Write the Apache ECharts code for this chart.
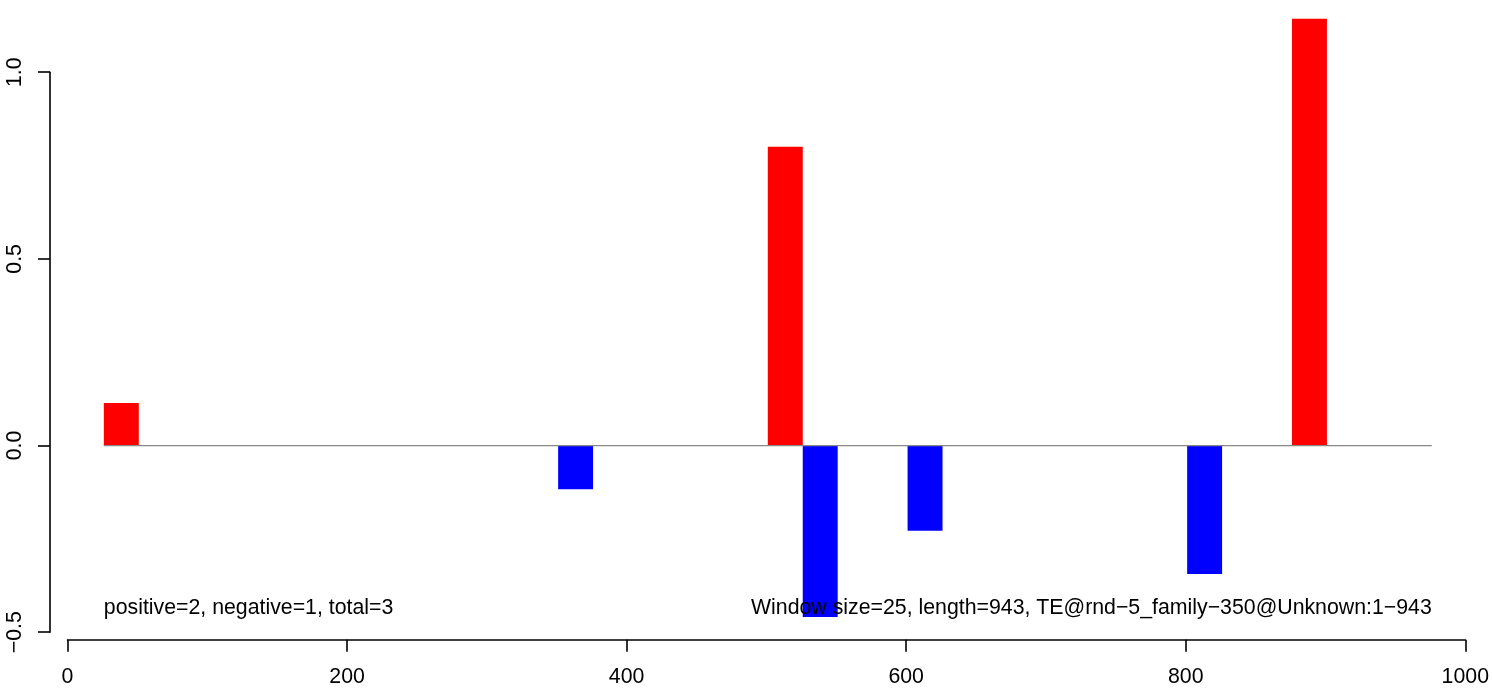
<!DOCTYPE html>
<html>
<head>
<meta charset="utf-8">
<script src="https://cdn.jsdelivr.net/npm/echarts@6/dist/echarts.min.js"></script>
<style>
html,body{margin:0;padding:0;background:#fff;}
#chart{width:1492px;height:691px;}
</style>
</head>
<body>
<div id="chart"></div>
<script>
// Window start positions (bp) and scores
const windowSize = 25;
const windowStarts = [26, 351, 501, 526, 601, 801, 876];
const windowValues = [0.114, -0.117, 0.800, -0.459, -0.228, -0.344, 1.143];
const baselineRange = [26, 976];
const xTicks = [0, 200, 400, 600, 800, 1000];
const yTicks = [-0.5, 0.0, 0.5, 1.0];
const leftNote = 'positive=2, negative=1, total=3';
const rightNote = 'Window size=25, length=943, TE@rnd\u22125_family\u2212350@Unknown:1\u2212943';
const noteY = -0.435;

const FONT = 'Liberation Sans, Arial, Helvetica, sans-serif';
const FS = 21.3;

const barData = windowStarts.map((s, i) => [s, s + windowSize, windowValues[i]]);

const chart = echarts.init(document.getElementById('chart'), null, {renderer: 'canvas'});
chart.setOption({
  animation: false,
  backgroundColor: '#ffffff',
  grid: {left: 67.5, right: 26.5, top: 72.2, bottom: 58.8, containLabel: false},
  xAxis: {
    type: 'value', min: xTicks[0], max: xTicks[xTicks.length - 1], interval: 200,
    offset: 7.5,
    splitLine: {show: false},
    axisLine: {show: true, onZero: false, lineStyle: {color: '#000', width: 1.6}},
    axisTick: {show: true, length: 12, lineStyle: {color: '#000', width: 1.6}},
    axisLabel: {color: '#000', fontSize: FS, fontFamily: FONT, margin: 27,
      formatter: v => String(v)}
  },
  yAxis: {
    type: 'value', min: yTicks[0], max: yTicks[yTicks.length - 1], interval: 0.5,
    offset: 17.5,
    splitLine: {show: false},
    axisLine: {show: true, onZero: false, lineStyle: {color: '#000', width: 1.6}},
    axisTick: {show: true, length: 12, lineStyle: {color: '#000', width: 1.6}},
    axisLabel: {color: '#000', fontSize: FS, fontFamily: FONT, margin: 24, rotate: 90,
      formatter: v => (v < 0 ? '\u2212' : '') + Math.abs(v).toFixed(1)}
  },
  series: [
    {
      type: 'custom',
      z: 2,
      clip: false,
      data: barData,
      encode: {x: [0, 1], y: 2},
      renderItem: function (params, api) {
        const x0 = api.value(0), x1 = api.value(1), v = api.value(2);
        const p0 = api.coord([x0, 0]);
        const p1 = api.coord([x1, v]);
        return {
          type: 'rect',
          shape: {x: p0[0], y: Math.min(p0[1], p1[1]), width: p1[0] - p0[0], height: Math.abs(p1[1] - p0[1])},
          style: {fill: v >= 0 ? '#ff0000' : '#0000ff'}
        };
      }
    },
    {
      type: 'line',
      z: 3,
      symbol: 'none',
      silent: true,
      data: [[baselineRange[0], 0], [baselineRange[1], 0]],
      lineStyle: {color: '#888888', width: 1.2}
    },
    {
      type: 'custom',
      z: 4,
      clip: false,
      data: [[baselineRange[0], noteY, 0], [baselineRange[1], noteY, 1]],
      renderItem: function (params, api) {
        const p = api.coord([api.value(0), api.value(1)]);
        const isLeft = api.value(2) === 0;
        return {
          type: 'text',
          x: p[0], y: p[1],
          style: {
            text: isLeft ? leftNote : rightNote,
            fill: '#000', fontSize: FS, fontFamily: FONT,
            align: isLeft ? 'left' : 'right', verticalAlign: 'middle'
          }
        };
      }
    }
  ]
});
</script>
</body>
</html>
